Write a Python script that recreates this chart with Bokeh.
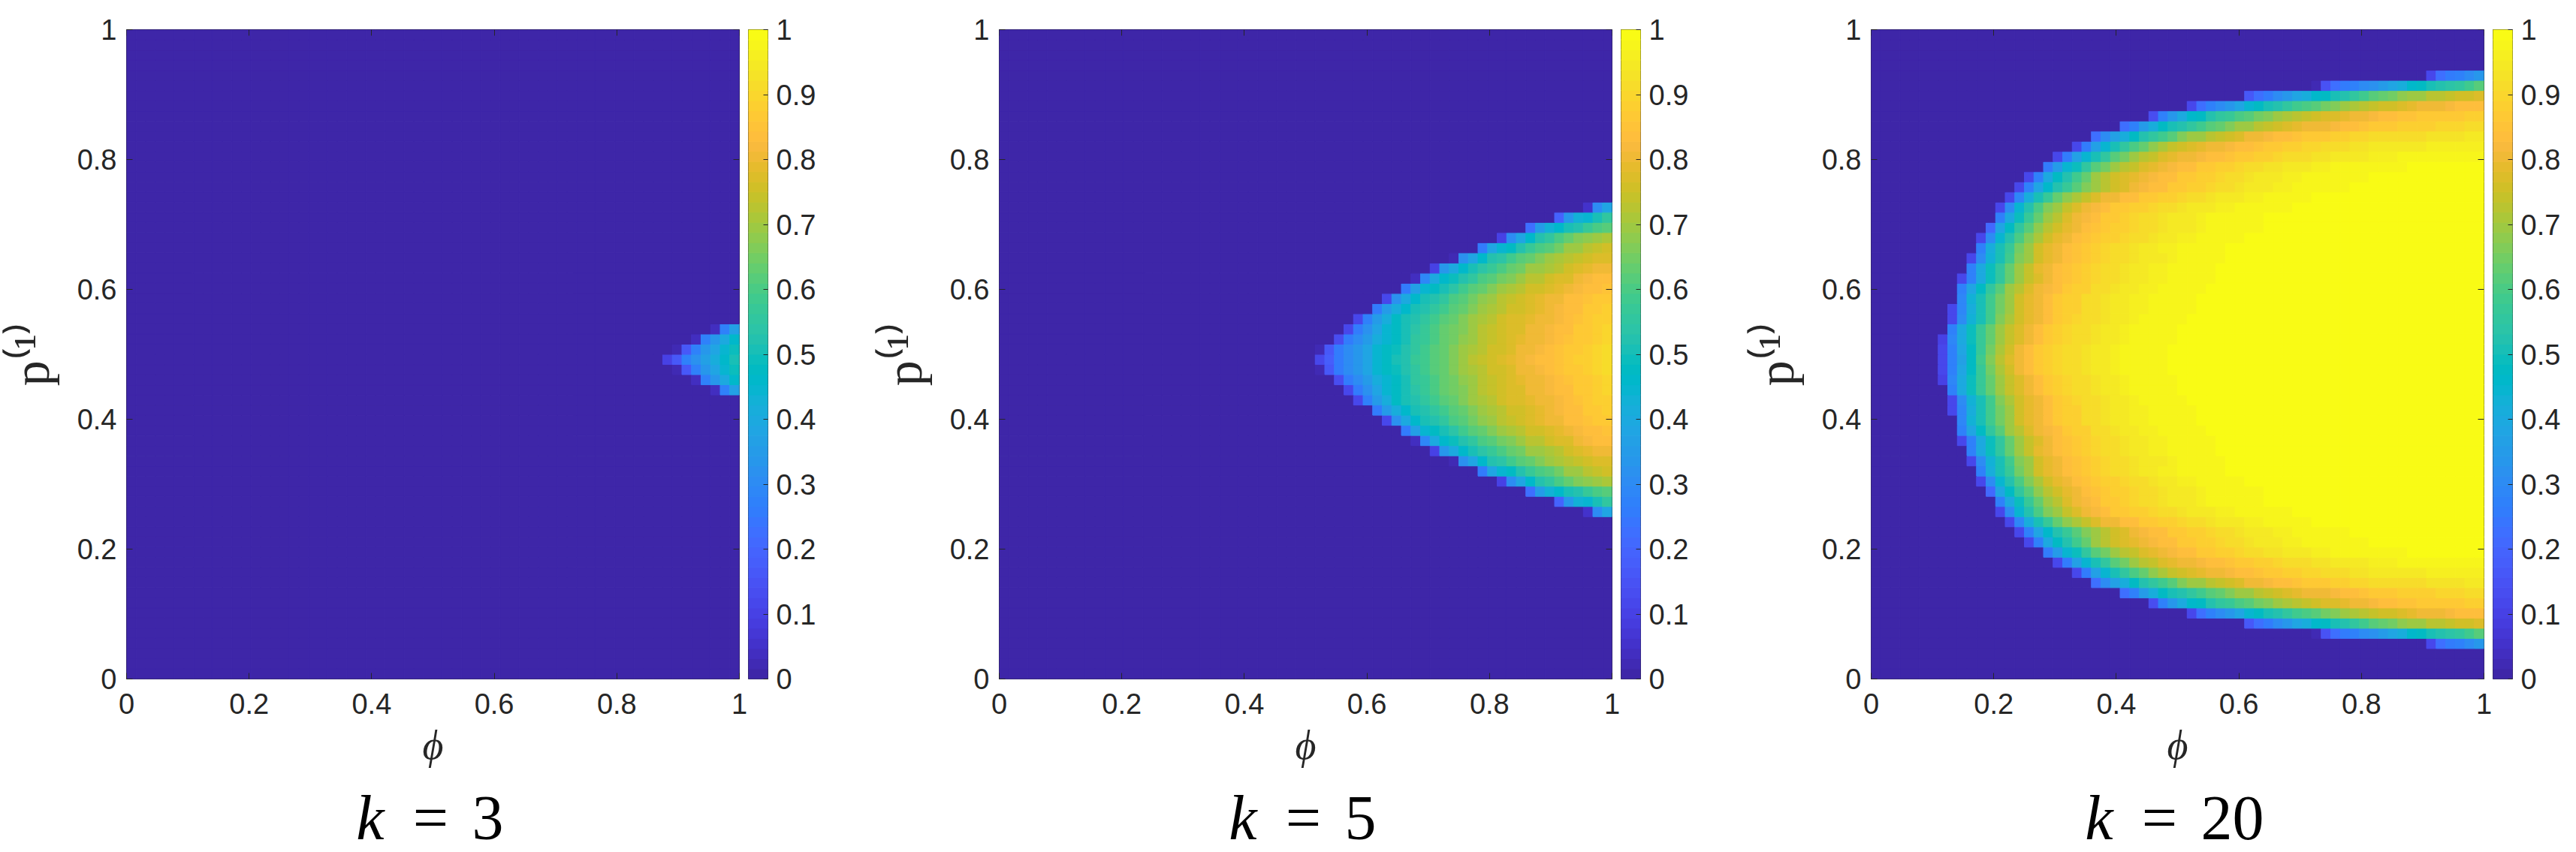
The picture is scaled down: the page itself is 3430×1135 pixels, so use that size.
import sys
import numpy as np
from bokeh.plotting import figure
from bokeh.models import (Range1d, FixedTicker, NumeralTickFormatter, LinearAxis,
                          Label, ColumnDataSource, LinearColorMapper, Spacer)
from bokeh.layouts import row, column
from bokeh.embed import file_html
from bokeh.resources import INLINE

# ---------------- colour map (MATLAB parula, 64 levels) ----------------
PARULA_RGB = [
    [0.2422, 0.1504, 0.6603], [0.2504, 0.1650, 0.7076], [0.2578, 0.1818, 0.7511], [0.2647, 0.1978, 0.7952],
    [0.2706, 0.2147, 0.8364], [0.2751, 0.2342, 0.8710], [0.2783, 0.2559, 0.8991], [0.2803, 0.2782, 0.9221],
    [0.2813, 0.3006, 0.9414], [0.2810, 0.3228, 0.9579], [0.2795, 0.3447, 0.9717], [0.2760, 0.3667, 0.9829],
    [0.2699, 0.3892, 0.9906], [0.2602, 0.4123, 0.9952], [0.2440, 0.4358, 0.9988], [0.2206, 0.4603, 0.9973],
    [0.1963, 0.4847, 0.9892], [0.1834, 0.5074, 0.9798], [0.1786, 0.5289, 0.9682], [0.1764, 0.5499, 0.9520],
    [0.1687, 0.5703, 0.9359], [0.1540, 0.5902, 0.9218], [0.1460, 0.6091, 0.9079], [0.1380, 0.6276, 0.8973],
    [0.1248, 0.6459, 0.8883], [0.1113, 0.6635, 0.8763], [0.0952, 0.6798, 0.8598], [0.0689, 0.6948, 0.8394],
    [0.0297, 0.7082, 0.8163], [0.0036, 0.7203, 0.7917], [0.0067, 0.7312, 0.7660], [0.0433, 0.7411, 0.7394],
    [0.0964, 0.7500, 0.7120], [0.1408, 0.7584, 0.6842], [0.1717, 0.7670, 0.6554], [0.1938, 0.7758, 0.6251],
    [0.2161, 0.7843, 0.5923], [0.2470, 0.7918, 0.5567], [0.2906, 0.7973, 0.5188], [0.3406, 0.8008, 0.4789],
    [0.3909, 0.8029, 0.4354], [0.4456, 0.8024, 0.3909], [0.5044, 0.7993, 0.3480], [0.5616, 0.7942, 0.3045],
    [0.6174, 0.7876, 0.2612], [0.6720, 0.7793, 0.2227], [0.7242, 0.7698, 0.1910], [0.7738, 0.7598, 0.1646],
    [0.8203, 0.7498, 0.1535], [0.8634, 0.7406, 0.1596], [0.9035, 0.7330, 0.1774], [0.9393, 0.7288, 0.2100],
    [0.9728, 0.7298, 0.2394], [0.9956, 0.7434, 0.2371], [0.9970, 0.7659, 0.2199], [0.9952, 0.7893, 0.2028],
    [0.9892, 0.8136, 0.1885], [0.9786, 0.8386, 0.1766], [0.9676, 0.8639, 0.1643], [0.9610, 0.8890, 0.1537],
    [0.9597, 0.9135, 0.1423], [0.9628, 0.9373, 0.1265], [0.9691, 0.9606, 0.1064], [0.9769, 0.9839, 0.0805],
]
PARULA = ["#%02x%02x%02x" % tuple(int(round(c * 255)) for c in rgb) for rgb in PARULA_RGB]

# ---------------- axes / ticks ----------------
N_CELLS = 64                      # 64 x 64 grid of cells on [0,1] x [0,1]
PHI_TICKS = [0, 0.2, 0.4, 0.6, 0.8, 1]
P_TICKS = [0, 0.2, 0.4, 0.6, 0.8, 1]
CBAR_TICKS = [0, 0.1, 0.2, 0.3, 0.4, 0.5, 0.6, 0.7, 0.8, 0.9, 1]
K_VALUES = ["3", "5", "20"]

# ---------------- data ----------------
# Each line: (first non-zero column, values in % from that column to the right edge).
# Cells left of the first column are 0.  Row maps list, bottom (p=0) to top (p=1),
# which line each of the 64 rows shows ('.' = row entirely 0).

K3_LINES = {
    "A": (61, "04 27 36"),
    "B": (59, "04 27 33 40 46"),
    "C": (57, "03 16 27 33 38 45 49"),
    "D": (56, "10 16 27 32 36 41 46 50"),
}
K3_ROW_MAP = "." * 28 + "ABCDCBA" + "." * 29

K5_LINES = {
    "A": (61, "05 30 38"),
    "B": (58, "19 33 43 45 50 55"),
    "C": (55, "22 35 43 46 50 52 57 60 62"),
    "D": (52, "10 30 38 46 52 56 60 63 66 68  70 71"),
    "E": (50, "25 38 45 48 52 57 60 62 65 69  70 73 74 75"),
    "F": (47, "02 32 38 46 52 54 59 62 64 67  70 71 73 74 76 77 78"),
    "G": (45, "10 33 40 46 50 54 57 60 63 65  69 70 71 73 75 77 79 80 80"),
    "H": (43, "04 29 40 46 49 53 56 60 62 65  67 70 72 73 75 77 78 80 82 83  83"),
    "I": (42, "26 36 45 48 51 54 59 61 64 67  69 71 73 75 76 78 79 80 82 84  84 85"),
    "J": (40, "12 32 40 46 50 53 56 60 62 65  68 70 72 74 75 77 79 80 81 83  84 85 86 86"),
    "K": (39, "25 35 41 46 50 53 56 59 62 64  67 69 71 73 75 76 78 79 80 82  83 84 86 87 88"),
    "L": (37, "12 28 35 42 47 50 53 56 59 62  64 67 69 71 73 75 77 78 79 80  81 82 84 85 86 88 89"),
    "M": (36, "12 26 32 38 44 47 50 54 57 60  63 65 67 70 72 74 75 77 78 80  81 82 83 84 86 87 88 90"),
    "N": (35, "14 26 31 35 41 45 48 51 55 57  60 63 65 68 70 72 74 76 77 79  80 81 82 83 85 86 87 89 90"),
    "O": (33, "03 17 26 30 34 38 44 47 49 52  56 58 61 63 66 69 71 73 75 76  78 80 81 82 83 85 86 87 89 90  91"),
    "P": (33, "12 18 26 30 34 38 44 47 50 53  57 59 62 64 67 69 72 74 75 77  79 81 82 83 84 85 86 88 89 90  91"),
}
K5_ROW_MAP = "." * 16 + "ABCDEFGHIJKLMNO" + "P" + "ONMLKJIHGFEDCBA" + "." * 17

K20_LINES = {
    "A": (58, "12 22 26 28 30 33"),
    "B": (46, "03 15 22 26 28 30 32 35 38 42  46 48 50 52 54 56 59 61"),
    "C": (39, "16 22 26 30 33 38 42 46 48 51  53 56 59 61 63 65 68 69 70 72  73 74 75 76 77"),
    "D": (33, "12 22 27 30 34 38 44 47 50 53  55 58 60 62 65 67 69 71 72 74  75 76 77 79 80 80 81 82 83 83  84"),
    "E": (29, "14 27 34 40 46 48 52 55 57 60  62 65 67 69 71 72 74 75 77 78  79 80 81 82 83 84 85 85 86 86  86 87 87 88 88"),
    "F": (26, "22 28 35 42 47 51 53 56 59 62  64 66 69 70 72 74 75 77 79 80  80 81 82 83 84 85 86 86 87 88  88 89 89 90 90 90 91 91"),
    "G": (23, "22 30 37 42 48 52 55 59 62 66  69 70 73 74 76 78 80 81 82 83  84 85 86 87 87 88 89 90 90 91  91 91 92 92 92 93 93 93 93 94  94"),
    "H": (21, "12 26 36 45 50 55 60 64 68 71 74  76 78 79 80 81 82 83 84 85 86  87 88 89 90 90 91 92 92 93 93  94 94 94 95 95 95 96 96 96 96  96 96"),
    "I": (19, "12 26 37 45 50 56 61 65 69 72 74 77 79  80 81 82 83 84 85 86 87 88 89  90 91 91 92 93 93 94 94 95 95  96 96 96 97 97 97 97 98 98 98  98 98"),
    "J": (18, "25 35 44 49 55 61 65 69 72 74 77 79 81 82  83 84 86 87 88 89 90 91 92 93  93 94 95 95 96 96 97 97 97 98  98 98 98 98 99 99 99 99 99 99  99 99"),
    "K": (16, "12 27 40 47 53 59 64 69 72 75 77 79 81 82 83 84  86 87 88 89 90 91 92 93 94 94  95 96 96 97 97 97 98 98 98 98  99 99 99 99 99 99 99 99 99 99  99 99"),
    "L": (15, "12 27 38 46 52 57 62 66 70 73 76 78 80 82 83 84 86  87 88 89 90 91 92 93 94 95 95  96 96 97 97 98 98 98 98 99 99  99 99 99 99 99 99 99 99 99 99  99 99"),
    "M": (14, "12 29 42 51 57 63 68 71 74 77 80 81 83 84 86 87 88 89  90 91 92 93 94 94 95 96 96 97  97 98 98 98 99 99 99 99 99 99  99 99 99 99 99 99 99 99 99 99  99 99"),
    "N": (13, "12 30 44 53 60 66 70 74 77 80  82 84 86 87 88 89 90 91 92 93  94 95 95 96 96 97 97 98 98 98  98 99 99 99 99 99 99 99 99 99  99 99 99 99 99 99 99 99 99 99  99"),
    "O": (13, "27 40 49 57 64 70 73 77 80 82  84 86 87 89 90 91 92 93 94 95  95 96 97 97 97 98 98 98 99 99  99 99 99 99 99 99 99 99 99 99  99 99 99 99 99 99 99 99 99 99  99"),
    "P": (12, "21 39 47 55 62 68 72 76 79 81  83 85 87 88 89 90 91 92 93 94  95 95 96 97 97 97 98 98 98 99  99 99 99 99 99 99 99 99 99 99  99 99 99 99 99 99 99 99 99 99  99 99"),
    "Q": (11, "12 31 44 52 60 67 71 75 79 81  83 85 87 88 89 90 91 92 93 94  95 96 96 97 97 98 98 98 99 99  99 99 99 99 99 99 99 99 99 99  99 99 99 99 99 99 99 99 99 99  99 99 99"),
    "R": (11, "27 42 50 57 65 70 75 79 81 83  85 87 89 90 91 92 93 94 95 96  96 97 97 98 98 98 99 99 99 99  99 99 99 99 99 99 99 99 99 99  99 99 99 99 99 99 99 99 99 99  99 99 99"),
    "S": (10, "12 30 43 51 59 66 70 75 79 81  83 85 87 88 90 91 92 93 94 95  95 96 97 97 98 98 98 99 99 99  99 99 99 99 99 99 99 99 99 99  99 99 99 99 99 99 99 99 99 99  99 99 99 99"),
    "T": (10, "27 40 49 56 64 70 74 79 81 83  85 87 89 90 91 92 93 94 95 96  96 97 97 98 98 98 99 99 99 99  99 99 99 99 99 99 99 99 99 99  99 99 99 99 99 99 99 99 99 99  99 99 99 99"),
    "U": (9, "12 28 40 49 56 63 70 74 78 81  83 85 87 89 90 91 92 93 94 95  96 96 97 97 98 98 98 99 99 99  99 99 99 99 99 99 99 99 99 99  99 99 99 99 99 99 99 99 99 99  99 99 99 99 99"),
    "V": (9, "27 39 48 56 62 69 73 77 80 82  84 86 88 89 91 92 93 94 95 96  96 97 97 98 98 98 99 99 99 99  99 99 99 99 99 99 99 99 99 99  99 99 99 99 99 99 99 99 99 99  99 99 99 99 99"),
    "W": (9, "29 43 50 58 65 70 75 79 81 83  86 88 89 91 92 93 94 95 96 96  97 97 98 98 98 99 99 99 99 99  99 99 99 99 99 99 99 99 99 99  99 99 99 99 99 99 99 99 99 99  99 99 99 99 99"),
    "X": (8, "12 29 42 50 58 65 70 75 79 81  83 86 88 89 91 92 93 94 95 96  96 97 97 98 98 98 99 99 99 99  99 99 99 99 99 99 99 99 99 99  99 99 99 99 99 99 99 99 99 99  99 99 99 99 99 99"),
    "Y": (8, "12 30 43 51 59 66 71 75 79 81  84 86 88 90 91 92 93 94 95 96  97 97 98 98 98 99 99 99 99 99  99 99 99 99 99 99 99 99 99 99  99 99 99 99 99 99 99 99 99 99  99 99 99 99 99 99"),
    "Z": (8, "27 40 49 57 64 70 74 78 81 84  86 88 90 91 92 93 94 95 96 97  97 98 98 98 99 99 99 99 99 99  99 99 99 99 99 99 99 99 99 99  99 99 99 99 99 99 99 99 99 99  99 99 99 99 99 99"),
    "a": (7, "10 29 40 49 57 64 70 74 78 81  84 86 88 90 91 92 93 94 95 96  97 97 98 98 98 99 99 99 99 99  99 99 99 99 99 99 99 99 99 99  99 99 99 99 99 99 99 99 99 99  99 99 99 99 99 99 99"),
    "b": (7, "12 27 39 48 57 65 71 76 80 83  86 88 90 91 92 93 94 95 96 97  97 98 98 98 99 99 99 99 99 99  99 99 99 99 99 99 99 99 99 99  99 99 99 99 99 99 99 99 99 99  99 99 99 99 99 99 99"),
    "c": (7, "12 27 37 48 58 66 72 77 81 84  86 88 90 91 92 93 94 95 96 97  97 98 98 98 99 99 99 99 99 99  99 99 99 99 99 99 99 99 99 99  99 99 99 99 99 99 99 99 99 99  99 99 99 99 99 99 99"),
}
K20_ROW_MAP = "..." + "ABCDEFGHIJKLMNOPQRSTUVWXYZab" + "c" + "baZYXWVUTSRQPONMLKJIHGFEDCBA" + "...."

# ---------------- styling / layout ----------------
INK = "#262626"
TICK_FONT = "Liberation Sans"
TICK_SIZE = "38px"
SERIF = "Liberation Serif"
CAPTION_SIZE = "84px"

LEFT_B, FRAME_W, RIGHT_B = 166, 818, 12
MAIN_W = LEFT_B + FRAME_W + RIGHT_B
TOP_B, FRAME_H, BOT_B = 39, 865, 135
MAIN_H = TOP_B + FRAME_H + BOT_B
STRIP_H = 96           # row holding the "k = ..." captions
CAPTION_Y = 46
CB_WIDTHS = [166, 165, 105]


def build_grid(lines, row_map):
    z = np.zeros((N_CELLS, N_CELLS))
    for r, key in enumerate(row_map[:N_CELLS]):
        if key == ".":
            continue
        start, pct = lines[key]
        vals = [int(s) / 100.0 for s in pct.split()]
        if start + len(vals) != N_CELLS:
            print("row", r, key, "length mismatch", start + len(vals), file=sys.stderr)
        vals = vals[: N_CELLS - start]
        z[r, start:start + len(vals)] = vals
    return z


EDGES = np.linspace(0, 1, N_CELLS + 1)


def style_axis(ax, show_labels=True):
    ax.axis_line_color = None
    ax.major_tick_in = 8
    ax.major_tick_out = 0
    ax.minor_tick_line_color = None
    ax.major_tick_line_color = INK
    ax.major_tick_line_width = 1
    if show_labels:
        ax.major_label_text_font = TICK_FONT
        ax.major_label_text_font_size = TICK_SIZE
        ax.major_label_text_color = INK
    else:
        ax.major_label_text_font_size = "1px"
        ax.major_label_text_color = None
        ax.major_label_standoff = 0


def heat_panel(lines, row_map):
    z = build_grid(lines, row_map)
    rr, cc = np.meshgrid(np.arange(N_CELLS), np.arange(N_CELLS), indexing="ij")
    rr = rr.ravel()
    cc = cc.ravel()
    src = ColumnDataSource(dict(left=EDGES[cc], right=EDGES[cc + 1],
                                bottom=EDGES[rr], top=EDGES[rr + 1], v=z.ravel()))
    mapper = LinearColorMapper(palette=PARULA, low=0, high=1)
    p = figure(width=MAIN_W, height=MAIN_H, x_range=Range1d(0, 1), y_range=Range1d(0, 1),
               min_border_left=LEFT_B, min_border_right=RIGHT_B, min_border_top=TOP_B,
               min_border_bottom=BOT_B, toolbar_location=None, output_backend="svg")
    p.quad(left="left", right="right", bottom="bottom", top="top", source=src,
           fill_color={"field": "v", "transform": mapper},
           line_color={"field": "v", "transform": mapper}, line_width=1)
    p.grid.visible = False
    p.outline_line_color = INK
    p.outline_line_width = 1
    p.background_fill_color = "white"
    p.border_fill_color = "white"

    xa = p.xaxis[0]
    xa.ticker = FixedTicker(ticks=PHI_TICKS)
    xa.formatter = NumeralTickFormatter(format="0.[0]")
    style_axis(xa)
    xa.major_label_standoff = 19
    xa.axis_label = "ϕ"
    xa.axis_label_text_font = SERIF
    xa.axis_label_text_font_style = "italic"
    xa.axis_label_text_font_size = "54px"
    xa.axis_label_text_color = INK
    xa.axis_label_standoff = 9

    ya = p.yaxis[0]
    ya.ticker = FixedTicker(ticks=P_TICKS)
    ya.formatter = NumeralTickFormatter(format="0.[0]")
    style_axis(ya)
    ya.major_label_standoff = 13
    ya.axis_label = "p⁽¹⁾"
    ya.axis_label_text_font = SERIF
    ya.axis_label_text_font_style = "normal"
    ya.axis_label_text_font_size = "68px"
    ya.axis_label_text_color = INK
    ya.axis_label_standoff = 20

    # box ticks on the top and right edges (pinned to the frame, no labels)
    top = LinearAxis(ticker=FixedTicker(ticks=PHI_TICKS), fixed_location=1)
    style_axis(top, show_labels=False)
    p.add_layout(top, "above")
    right = LinearAxis(ticker=FixedTicker(ticks=P_TICKS), fixed_location=1)
    style_axis(right, show_labels=False)
    p.add_layout(right, "right")
    return p


def caption_strip(kval, shift):
    """'k = <kval>' centred under the panel; shift moves the whole caption (px)."""
    s = figure(width=MAIN_W, height=STRIP_H, x_range=Range1d(0, 1), y_range=Range1d(0, STRIP_H),
               min_border_left=LEFT_B, min_border_right=RIGHT_B, min_border_top=0,
               min_border_bottom=0, toolbar_location=None, output_backend="svg",
               x_axis_type=None, y_axis_type=None)
    s.grid.visible = False
    s.outline_line_color = None
    s.background_fill_color = "white"
    s.border_fill_color = "white"
    common = dict(x=0.5, y=CAPTION_Y, text_font=SERIF, text_font_size=CAPTION_SIZE,
                  text_color="black", text_baseline="alphabetic")
    s.add_layout(Label(text="k", text_font_style="italic", text_align="right",
                       x_offset=-64 + shift, **common))
    s.add_layout(Label(text="=", text_font_style="normal", text_align="center",
                       x_offset=-2 + shift, **common))
    s.add_layout(Label(text=kval, text_font_style="normal", text_align="left",
                       x_offset=53 + shift, **common))
    return s


def colorbar_fig(width):
    mapper = LinearColorMapper(palette=PARULA, low=0, high=1)
    mids = (EDGES[:-1] + EDGES[1:]) / 2
    src = ColumnDataSource(dict(bottom=EDGES[:-1], top=EDGES[1:], v=mids))
    cb = figure(width=width, height=MAIN_H, x_range=Range1d(0, 1), y_range=Range1d(0, 1),
                min_border_left=0, min_border_right=width - 26, min_border_top=TOP_B,
                min_border_bottom=BOT_B, toolbar_location=None, output_backend="svg",
                x_axis_type=None, y_axis_type=None)
    cb.quad(left=0, right=1, bottom="bottom", top="top", source=src,
            fill_color={"field": "v", "transform": mapper},
            line_color={"field": "v", "transform": mapper}, line_width=1)
    cb.grid.visible = False
    cb.outline_line_color = INK
    cb.outline_line_width = 1
    ax = LinearAxis(ticker=FixedTicker(ticks=CBAR_TICKS),
                    formatter=NumeralTickFormatter(format="0.[0]"))
    style_axis(ax)
    ax.major_tick_in = 6
    ax.major_label_standoff = 11
    cb.add_layout(ax, "right")
    return cb


p1 = heat_panel(K3_LINES, K3_ROW_MAP)
p2 = heat_panel(K5_LINES, K5_ROW_MAP)
p3 = heat_panel(K20_LINES, K20_ROW_MAP)
cbs = [colorbar_fig(w) for w in CB_WIDTHS]

s1 = caption_strip(K_VALUES[0], 0)
s2 = caption_strip(K_VALUES[1], 0)
s3 = caption_strip(K_VALUES[2], -21)
gaps = [Spacer(width=w, height=STRIP_H) for w in CB_WIDTHS]

layout = column(
    row(p1, cbs[0], p2, cbs[1], p3, cbs[2], spacing=0),
    row(s1, gaps[0], s2, gaps[1], s3, gaps[2], spacing=0),
    spacing=0,
)
open("out.html", "w").write(file_html(layout, INLINE, title="parula heatmaps"))
